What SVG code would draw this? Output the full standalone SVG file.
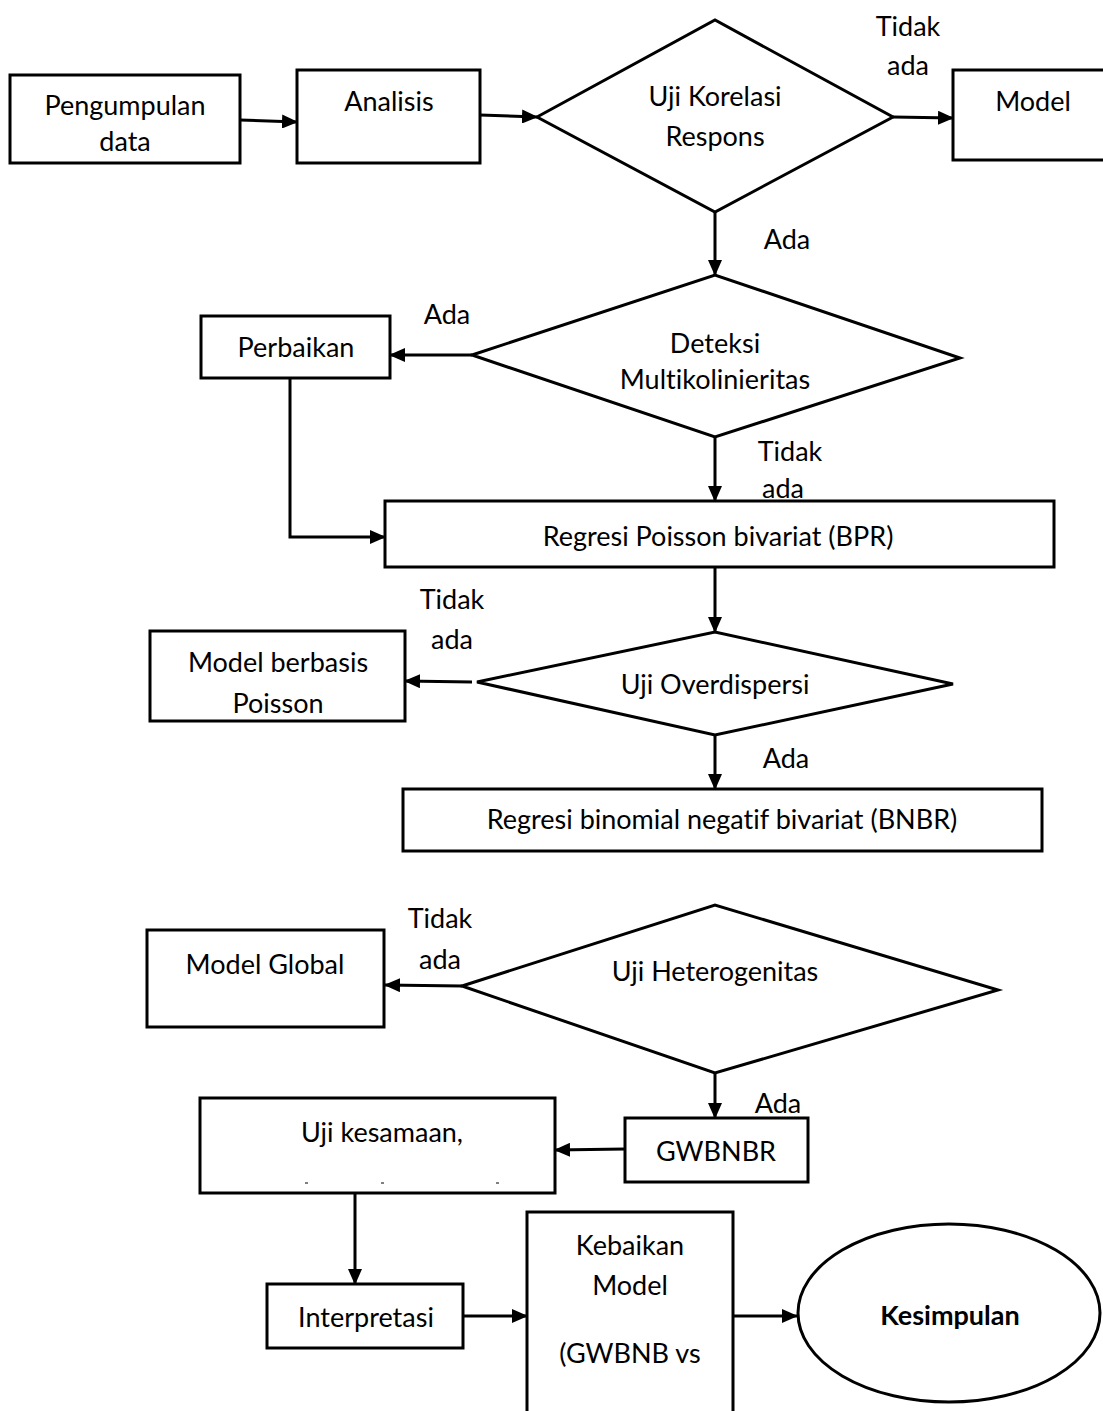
<svg xmlns="http://www.w3.org/2000/svg" width="1103" height="1411" viewBox="0 0 1103 1411">
<style>
.n{fill:#fff;stroke:#000;stroke-width:3}
.t{font-family:Lato,"Noto Sans",sans-serif;font-size:27px;fill:#000;text-anchor:middle;dominant-baseline:central;font-variant-ligatures:none;font-feature-settings:"liga" 0}
.b{font-weight:bold}
.c{fill:none;stroke:#000;stroke-width:3}
</style>
<defs>
<marker id="a" markerUnits="userSpaceOnUse" markerWidth="16" markerHeight="14" refX="15" refY="7" orient="auto">
<path d="M0,0 L16,7 L0,14 Z" fill="#000"/>
</marker>
</defs>
<rect width="1103" height="1411" fill="#fff"/>
<g id="connectors">
<line class="c" x1="240" y1="120" x2="297" y2="122" marker-end="url(#a)"/>
<line class="c" x1="480" y1="115" x2="537" y2="117" marker-end="url(#a)"/>
<line class="c" x1="893" y1="117" x2="953" y2="118" marker-end="url(#a)"/>
<line class="c" x1="715" y1="212" x2="715" y2="275" marker-end="url(#a)"/>
<line class="c" x1="472" y1="355" x2="390" y2="355" marker-end="url(#a)"/>
<polyline class="c" points="290,378 290,537 385,537" marker-end="url(#a)"/>
<line class="c" x1="715" y1="437" x2="715" y2="501" marker-end="url(#a)"/>
<line class="c" x1="715" y1="567" x2="715" y2="632" marker-end="url(#a)"/>
<line class="c" x1="472" y1="682" x2="405" y2="681" marker-end="url(#a)"/>
<line class="c" x1="715" y1="735" x2="715" y2="789" marker-end="url(#a)"/>
<line class="c" x1="462" y1="986" x2="385" y2="985" marker-end="url(#a)"/>
<line class="c" x1="715" y1="1073" x2="715" y2="1118" marker-end="url(#a)"/>
<line class="c" x1="625" y1="1149" x2="555" y2="1150" marker-end="url(#a)"/>
<line class="c" x1="355" y1="1193" x2="355" y2="1284" marker-end="url(#a)"/>
<line class="c" x1="463" y1="1316" x2="527" y2="1316" marker-end="url(#a)"/>
<line class="c" x1="733" y1="1316" x2="797" y2="1316" marker-end="url(#a)"/>
<text class="t" x="908" y="25">Tidak</text>
<text class="t" x="908" y="64">ada</text>
<text class="t" x="787" y="238">Ada</text>
<text class="t" x="447" y="313">Ada</text>
<text class="t" x="790" y="450">Tidak</text>
<text class="t" x="783" y="487">ada</text>
<text class="t" x="452" y="598">Tidak</text>
<text class="t" x="452" y="638">ada</text>
<text class="t" x="786" y="757">Ada</text>
<text class="t" x="440" y="917">Tidak</text>
<text class="t" x="440" y="958">ada</text>
<text class="t" x="778" y="1102">Ada</text>
</g>
<g id="pengumpulan">
<rect class="n" x="10" y="75" width="230" height="88"/>
<text class="t" x="125" y="104">Pengumpulan</text>
<text class="t" x="125" y="140">data</text>
</g>
<g id="analisis">
<rect class="n" x="297" y="70" width="183" height="93"/>
<text class="t" x="389" y="100">Analisis</text>
</g>
<g id="uji-korelasi">
<polygon class="n" points="537,117 715,20 893,117 715,212"/>
<text class="t" x="715" y="95">Uji Korelasi</text>
<text class="t" x="715" y="135">Respons</text>
</g>
<g id="model">
<rect class="n" x="953" y="70" width="160" height="90"/>
<text class="t" x="1033" y="100">Model</text>
</g>
<g id="deteksi">
<polygon class="n" points="472,355 715,275 960,358 715,437"/>
<text class="t" x="715" y="342">Deteksi</text>
<text class="t" x="715" y="378">Multikolinieritas</text>
</g>
<g id="perbaikan">
<rect class="n" x="201" y="316" width="189" height="62"/>
<text class="t" x="296" y="346">Perbaikan</text>
</g>
<g id="bpr">
<rect class="n" x="385" y="501" width="669" height="66"/>
<text class="t" x="718" y="535">Regresi Poisson bivariat (BPR)</text>
</g>
<g id="uji-overdispersi">
<polygon class="n" points="477,682 715,632 953,684 715,735"/>
<text class="t" x="715" y="683">Uji Overdispersi</text>
</g>
<g id="model-poisson">
<rect class="n" x="150" y="631" width="255" height="90"/>
<text class="t" x="278" y="661">Model berbasis</text>
<text class="t" x="278" y="702">Poisson</text>
</g>
<g id="bnbr">
<rect class="n" x="403" y="789" width="639" height="62"/>
<text class="t" x="722" y="818">Regresi binomial negatif bivariat (BNBR)</text>
</g>
<g id="uji-heterogenitas">
<polygon class="n" points="462,986 715,905 998,990 715,1073"/>
<text class="t" x="715" y="970">Uji Heterogenitas</text>
</g>
<g id="model-global">
<rect class="n" x="147" y="930" width="237" height="97"/>
<text class="t" x="265" y="963">Model Global</text>
</g>
<g id="gwbnbr">
<rect class="n" x="625" y="1118" width="183" height="64"/>
<text class="t" x="716" y="1150">GWBNBR</text>
</g>
<g id="uji-kesamaan">
<rect class="n" x="200" y="1098" width="355" height="95"/>
<text class="t" x="382" y="1131">Uji kesamaan,</text>
<g stroke="#000" stroke-width="1"><line x1="305" y1="1183" x2="308" y2="1183"/><line x1="381" y1="1183" x2="384" y2="1183"/><line x1="496" y1="1183" x2="499" y2="1183"/></g>
</g>
<g id="interpretasi">
<rect class="n" x="267" y="1284" width="196" height="64"/>
<text class="t" x="366" y="1316">Interpretasi</text>
</g>
<g id="kebaikan">
<path class="n" d="M527,1420 V1212 H733 V1420"/>
<text class="t" x="630" y="1244">Kebaikan</text>
<text class="t" x="630" y="1284">Model</text>
<text class="t" x="630" y="1352">(GWBNB vs</text>
</g>
<g id="kesimpulan">
<ellipse class="n" cx="949" cy="1313" rx="151" ry="89"/>
<text class="t b" x="950" y="1314">Kesimpulan</text>
</g>
</svg>
